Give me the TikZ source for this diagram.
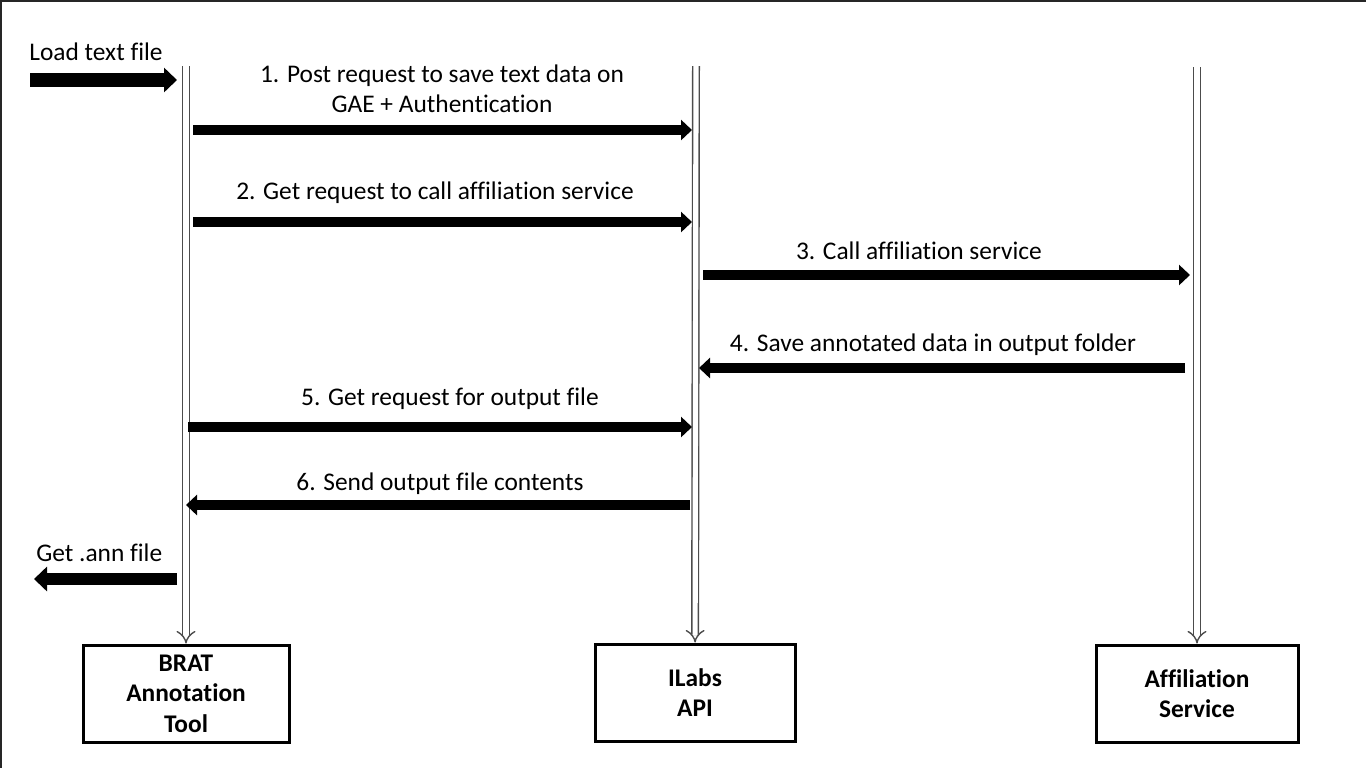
\documentclass[tikz,border=0pt]{standalone}
\usepackage{fontspec}
\setmainfont{Carlito}[Ligatures=NoCommon]
\usetikzlibrary{arrows.meta}

\begin{document}
\begin{tikzpicture}[x=0.5pt, y=-0.5pt,
		msg/.style={line width=5pt, -{Triangle[width=10pt,length=5.5pt]}},
		bigmsg/.style={line width=7pt, -{Triangle[width=12pt,length=6.5pt]}},
		lifeline/.style={draw=black!70, line width=0.7pt, double=white, double distance=2.6pt, -{Implies}},
		actor/.style={draw, line width=1.5pt, align=center, inner sep=0pt, minimum height=48.5pt, font=\bfseries\fontsize{12.7}{15.2}\selectfont},
		lbl/.style={align=center, inner sep=0pt, font=\fontsize{12.7}{15}\selectfont}]
		
		\useasboundingbox (0,0) rectangle (1366,768);
		\draw[line width=1pt, black!85] (1366,1) -- (1,1) -- (1,768);
		
		\node[actor, minimum width=103pt] (brat) at (186,693.5) {BRAT\\Annotation\\Tool};
		\node[actor, minimum width=100pt] (ilabs) at (695,692.5) {ILabs\\API};
		\node[actor, minimum width=101pt] (affil) at (1197,693.5) {Affiliation\\Service};
		
		\coordinate (bratTop) at (186,66);
		\coordinate (ilabsTop) at (696,66);
		\coordinate (affilTop) at (1197,67);
		
		\draw[lifeline] (bratTop) -- (brat);
		\draw[lifeline] (ilabsTop) -- (ilabs);
		\draw[lifeline] (affilTop) -- (affil);
		
		\coordinate (in0) at (30,80);
		\coordinate (in1) at (177,80);
		\coordinate (m1a) at (193,130);
		\coordinate (m1b) at (692,130);
		\coordinate (m2a) at (193,222);
		\coordinate (m2b) at (692,222);
		\coordinate (m3a) at (703,275);
		\coordinate (m3b) at (1190,275);
		\coordinate (m4a) at (1185,368);
		\coordinate (m4b) at (699,368);
		\coordinate (m5a) at (188,427);
		\coordinate (m5b) at (692,427);
		\coordinate (m6a) at (690,505);
		\coordinate (m6b) at (186,505);
		\coordinate (out0) at (177,579);
		\coordinate (out1) at (34,579);
		
		\draw[bigmsg] (in0) -- (in1);
		\draw[msg] (m1a) -- (m1b);
		\draw[msg] (m2a) -- (m2b);
		\draw[msg] (m3a) -- (m3b);
		\draw[msg] (m4a) -- (m4b);
		\draw[msg] (m5a) -- (m5b);
		\draw[msg] (m6a) -- (m6b);
		\draw[bigmsg, line width=6pt] (out0) -- (out1);
		
		\node[lbl, anchor=west] (load) at (29,52) {Load text file};
		\node[lbl] (t1) at (442,89) {1. Post request to save text data on\\GAE + Authentication};
		\node[lbl] (t2) at (435,193) {2. Get request to call affiliation service};
		\node[lbl] (t3) at (919,251) {3. Call affiliation service};
		\node[lbl] (t4) at (933,345) {4. Save annotated data in output folder};
		\node[lbl] (t5) at (450,399) {5. Get request for output file};
		\node[lbl] (t6) at (440,484) {6. Send output file contents};
		\node[lbl, anchor=west] (ann) at (36,553) {Get .ann file};
		
	\end{tikzpicture}
\end{document}
